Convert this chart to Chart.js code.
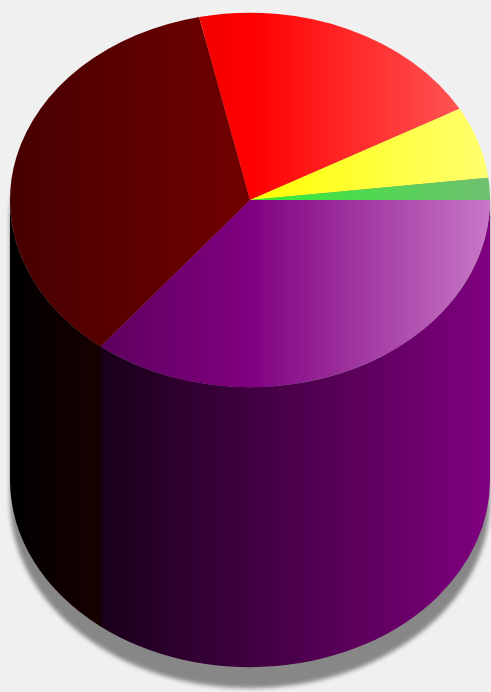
<!DOCTYPE html>
<html>
<head>
<meta charset="utf-8">
<script src="https://cdn.jsdelivr.net/npm/chart.js@4/dist/chart.umd.min.js"></script>
<style>
  html, body { margin: 0; padding: 0; background: #f0f0f0; overflow: hidden; }
  canvas { display: block; }
</style>
</head>
<body>
<canvas id="pieChart" width="491" height="692"></canvas>
<script>
// slice values, clockwise from 3 o'clock
const labels = ['Purple', 'Dark red', 'Red', 'Yellow', 'Green'];
const values = [35.7, 35.9, 20.3, 6.2, 1.9];

// top face: [left, middle, right] gradient stops
const topColors = [
    ['#4a004a', '#800080', '#c878c8'],
    ['#460000', '#720000', '#a03030'],
    ['#c00000', '#ff0000', '#ff6060'],
    ['#c0c000', '#ffff00', '#ffff70'],
    ['#009000', '#30f030', '#70c070']
];
// side wall colour at the right edge (left edge is black)
const sideColors = ['#800080', '#800000', '#ff0000', '#ffff00', '#00c000'];

const TILT = 0.78;       // vertical squash of the top face
const TOP_Y = 200;       // centre of the top face
const DEPTH = 280;       // cylinder height
const SHADOW_DROP = 21;

function topGradient(c) {
    const area = c.chart.chartArea;
    const stops = topColors[c.dataIndex];
    if (!area) return stops[1];
    const g = c.chart.ctx.createLinearGradient(area.left, 0, area.right, 0);
    g.addColorStop(0, stops[0]);
    g.addColorStop(0.5, stops[1]);
    g.addColorStop(1, stops[2]);
    return g;
}

const cylinderPlugin = {
    id: 'cylinder',
    beforeDatasetsDraw(chart) {
        const ctx = chart.ctx;
        const arcs = chart.getDatasetMeta(0).data;
        const cx = arcs[0].x;
        const r = arcs[0].outerRadius;
        const ry = r * TILT;
        const yTop = TOP_Y;
        const yBot = TOP_Y + DEPTH;

        // soft shadow under the cylinder
        ctx.save();
        ctx.filter = 'blur(2px)';
        ctx.fillStyle = '#878787';
        ctx.beginPath();
        ctx.ellipse(cx, yTop + SHADOW_DROP, r, ry, 0, Math.PI, 2 * Math.PI);
        ctx.lineTo(cx + r, yBot + SHADOW_DROP);
        ctx.ellipse(cx, yBot + SHADOW_DROP, r, ry, 0, 0, Math.PI);
        ctx.closePath();
        ctx.fill();
        ctx.restore();

        // front side walls of each slice
        arcs.forEach((arc, i) => {
            const a = Math.max(arc.startAngle, 0);
            const b = Math.min(arc.endAngle + 0.004, Math.PI);
            if (b <= a) return;
            const g = ctx.createLinearGradient(cx - r, 0, cx + r, 0);
            g.addColorStop(0, '#000000');
            g.addColorStop(1, sideColors[i]);
            ctx.beginPath();
            ctx.ellipse(cx, yTop, r, ry, 0, a, b, false);
            ctx.ellipse(cx, yBot, r, ry, 0, b, a, true);
            ctx.closePath();
            ctx.fillStyle = g;
            ctx.fill();
        });

        // squash the pie itself into the top ellipse
        ctx.save();
        ctx.translate(0, yTop);
        ctx.scale(1, TILT);
        ctx.translate(0, -arcs[0].y);
    },
    afterDatasetsDraw(chart) {
        chart.ctx.restore();
    }
};

new Chart(document.getElementById('pieChart'), {
    type: 'pie',
    data: {
        labels: labels,
        datasets: [{
            data: values,
            backgroundColor: topGradient,
            borderWidth: 0,
            clip: false
        }]
    },
    options: {
        responsive: false,
        animation: false,
        rotation: 90,
        events: [],
        layout: { padding: { left: 10, right: 1, top: 0, bottom: 0 } },
        plugins: {
            legend: { display: false },
            tooltip: { enabled: false }
        }
    },
    plugins: [cylinderPlugin]
});
</script>
</body>
</html>
